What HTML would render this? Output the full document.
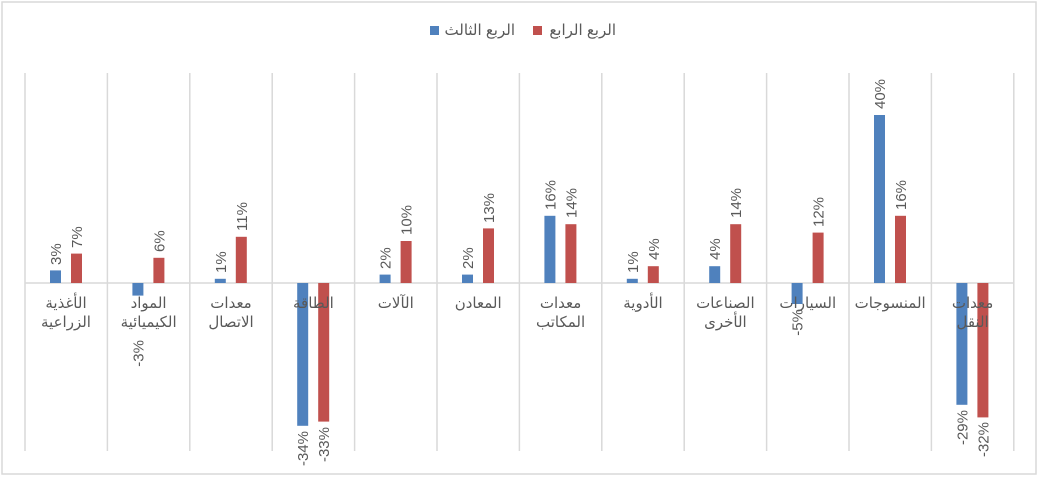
<!DOCTYPE html>
<html><head><meta charset="utf-8"><style>
body{margin:0;background:#fff}
svg{display:block;font-family:"Liberation Sans","DejaVu Sans",sans-serif}
.v{font-size:15px;fill:#595959}
.c{font-size:15px;fill:#595959;letter-spacing:2px;font-family:"DejaVu Sans",sans-serif}
</style></head><body>
<svg width="1039" height="477" viewBox="0 0 1039 477">
<rect x="2" y="2" width="1034" height="472" fill="#fff" stroke="#d9d9d9" stroke-width="1.5"/>
<g stroke="#d9d9d9" stroke-width="1.5">
<line x1="25" y1="73" x2="25" y2="451"/><line x1="107.4" y1="73" x2="107.4" y2="451"/><line x1="189.8" y1="73" x2="189.8" y2="451"/><line x1="272.2" y1="73" x2="272.2" y2="451"/><line x1="354.6" y1="73" x2="354.6" y2="451"/><line x1="437" y1="73" x2="437" y2="451"/><line x1="519.4" y1="73" x2="519.4" y2="451"/><line x1="601.8" y1="73" x2="601.8" y2="451"/><line x1="684.2" y1="73" x2="684.2" y2="451"/><line x1="766.6" y1="73" x2="766.6" y2="451"/><line x1="849" y1="73" x2="849" y2="451"/><line x1="931.4" y1="73" x2="931.4" y2="451"/><line x1="1013.8" y1="73" x2="1013.8" y2="451"/>
<line x1="25" y1="283" x2="1014" y2="283"/>
</g>
<g fill="#4f81bd">
<rect x="50" y="270.4" width="11" height="12.6"/>
<rect x="132.4" y="283" width="11" height="12.6"/>
<rect x="214.8" y="278.8" width="11" height="4.2"/>
<rect x="297.2" y="283" width="11" height="142.8"/>
<rect x="379.6" y="274.6" width="11" height="8.4"/>
<rect x="462" y="274.6" width="11" height="8.4"/>
<rect x="544.4" y="215.8" width="11" height="67.2"/>
<rect x="626.8" y="278.8" width="11" height="4.2"/>
<rect x="709.2" y="266.2" width="11" height="16.8"/>
<rect x="791.6" y="283" width="11" height="21"/>
<rect x="874" y="115" width="11" height="168"/>
<rect x="956.4" y="283" width="11" height="121.8"/>
</g>
<g fill="#c0504d">
<rect x="71" y="253.6" width="11" height="29.4"/>
<rect x="153.4" y="257.8" width="11" height="25.2"/>
<rect x="235.8" y="236.8" width="11" height="46.2"/>
<rect x="318.2" y="283" width="11" height="138.6"/>
<rect x="400.6" y="241" width="11" height="42"/>
<rect x="483" y="228.4" width="11" height="54.6"/>
<rect x="565.4" y="224.2" width="11" height="58.8"/>
<rect x="647.8" y="266.2" width="11" height="16.8"/>
<rect x="730.2" y="224.2" width="11" height="58.8"/>
<rect x="812.6" y="232.6" width="11" height="50.4"/>
<rect x="895" y="215.8" width="11" height="67.2"/>
<rect x="977.4" y="283" width="11" height="134.4"/>
</g>
<g class="c" text-anchor="middle" direction="rtl">
<text x="66" y="308">الأغذية</text><text x="66" y="327">الزراعية</text>
<text x="148.6" y="308">المواد</text><text x="148.6" y="327">الكيميائية</text>
<text x="231" y="308">معدات</text><text x="231" y="327">الاتصال</text>
<text x="313.4" y="308">الطاقة</text>
<text x="395.8" y="308">الآلات</text>
<text x="478.2" y="308">المعادن</text>
<text x="560.6" y="308">معدات</text><text x="560.6" y="327">المكاتب</text>
<text x="643" y="308">الأدوية</text>
<text x="725.4" y="308">الصناعات</text><text x="725.4" y="327">الأخرى</text>
<text x="807.8" y="308">السيارات</text>
<text x="890.2" y="308">المنسوجات</text>
<text x="972.6" y="308">معدات</text><text x="972.6" y="327">النقل</text>
</g>
<g class="v">
<text transform="translate(61,265) rotate(-90)">3%</text>
<text transform="translate(82,248) rotate(-90)">7%</text>
<text transform="translate(143.5,340) rotate(-90)" text-anchor="end">-3%</text>
<text transform="translate(164.5,252) rotate(-90)">6%</text>
<text transform="translate(226,273) rotate(-90)">1%</text>
<text transform="translate(247,231) rotate(-90)">11%</text>
<text transform="translate(308,431) rotate(-90)" text-anchor="end">-34%</text>
<text transform="translate(329,427) rotate(-90)" text-anchor="end">-33%</text>
<text transform="translate(390.5,269) rotate(-90)">2%</text>
<text transform="translate(411.5,235) rotate(-90)">10%</text>
<text transform="translate(473,269) rotate(-90)">2%</text>
<text transform="translate(494,223) rotate(-90)">13%</text>
<text transform="translate(555.5,210) rotate(-90)">16%</text>
<text transform="translate(576.5,218) rotate(-90)">14%</text>
<text transform="translate(638,273) rotate(-90)">1%</text>
<text transform="translate(659,260) rotate(-90)">4%</text>
<text transform="translate(720,260) rotate(-90)">4%</text>
<text transform="translate(741,218) rotate(-90)">14%</text>
<text transform="translate(802.5,309) rotate(-90)" text-anchor="end">-5%</text>
<text transform="translate(823.5,227) rotate(-90)">12%</text>
<text transform="translate(885,109) rotate(-90)">40%</text>
<text transform="translate(906,210) rotate(-90)">16%</text>
<text transform="translate(967.5,410) rotate(-90)" text-anchor="end">-29%</text>
<text transform="translate(988.5,422) rotate(-90)" text-anchor="end">-32%</text>
</g>
<rect x="430" y="26" width="9" height="9" fill="#4f81bd"/>
<text x="515" y="35" font-size="15" fill="#595959" text-anchor="start" direction="rtl">الربع الثالث</text>
<rect x="533" y="26" width="9" height="9" fill="#c0504d"/>
<text x="616" y="35" font-size="15" fill="#595959" text-anchor="start" direction="rtl">الربع الرابع</text>
</svg>
</body></html>
